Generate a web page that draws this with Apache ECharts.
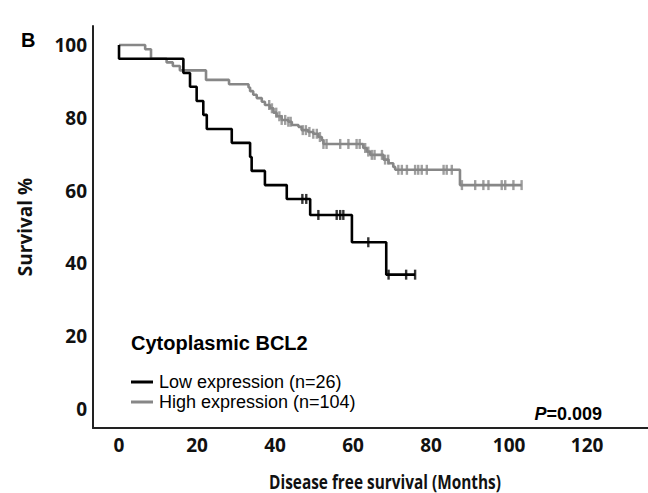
<!DOCTYPE html>
<html>
<head>
<meta charset="utf-8">
<script src="https://cdn.jsdelivr.net/npm/echarts@6/dist/echarts.min.js"></script>
<style>
html,body{margin:0;padding:0;background:#fff;}
#chart{width:648px;height:493px;}
</style>
</head>
<body>
<div id="chart"></div>
<script>
// ---- data ----
var xTicks = [0, 20, 40, 60, 80, 100, 120];
var yTicks = [0, 20, 40, 60, 80, 100];

var lowName = 'Low expression (n=26)';
var lowTimes = [0, 0, 16.5, 18.2, 19.9, 21.6, 22.5, 28.9, 33.6, 34.0, 37.4, 43.0, 49.0, 59.7, 68.5, 75.9];
var lowSurv  = [100, 96.2, 92.3, 88.5, 84.6, 80.8, 76.9, 73.1, 69.2, 65.4, 61.5, 57.7, 53.3, 45.8, 36.9, 36.9];
var lowCensor = [47.0, 48.0, 51.1, 55.8, 56.7, 57.5, 63.9, 69.1, 73.6, 75.9];

var highName = 'High expression (n=104)';
var highTimes = [0, 6.7, 8.2, 12.2, 13.8, 15.6, 22.3, 28.2, 33.2, 33.6, 34.4, 35.3, 36.6, 37.4, 38.7, 39.6, 40.4, 41.7, 43.4, 44.3, 46.0, 46.8, 48.5, 49.8, 51.1, 52.0, 52.4, 62.6, 63.5, 64.4, 67.8, 69.1, 70.3, 70.8, 87.4, 103.2];
var highSurv  = [100, 98.8, 96.2, 95.2, 94.2, 93.0, 90.4, 89.2, 88.3, 87.3, 86.3, 85.4, 84.4, 83.5, 82.6, 81.4, 80.4, 79.4, 78.9, 78.0, 77.5, 76.6, 76.1, 75.6, 74.7, 73.8, 72.8, 71.7, 70.7, 69.8, 68.5, 67.5, 66.5, 65.7, 61.5, 61.5];
var highCensor = [38.5, 39.2, 40.3, 41.1, 41.7, 42.6, 43.4, 44.0, 47.1, 47.9, 48.8, 49.8, 50.7, 51.5, 52.4, 53.2, 56.7, 58.8, 60.9, 61.7, 63.1, 63.9, 64.8, 65.5, 67.4, 68.2, 69.0, 71.6, 72.5, 73.8, 75.9, 76.7, 77.6, 78.9, 83.2, 84.0, 85.3, 87.9, 91.3, 93.4, 94.7, 98.1, 99.0, 101.1, 103.2];

// ---- helpers ----
function pairs(ts, vs) { return ts.map(function (t, i) { return [t, vs[i]]; }); }
function stepAt(ts, vs, t) {
  var v = vs[0];
  for (var i = 0; i < ts.length; i++) { if (ts[i] <= t + 1e-9) v = vs[i]; }
  return v;
}
function censorPts(cs, ts, vs) { return cs.map(function (t) { return [t, stepAt(ts, vs, t)]; }); }

var BLACK = '#000000', GRAY = '#878787';
var tickFont = { fontFamily: 'Open Sans', fontWeight: 'bold', fontSize: 19, color: '#111' };

var chart = echarts.init(document.getElementById('chart'), null, { renderer: 'svg' });
chart.setOption({
  animation: false,
  backgroundColor: '#fff',
  grid: { left: 93, right: 0, top: 26, bottom: 65, containLabel: false },
  xAxis: {
    type: 'value', min: -6.67, max: 135.6,
    axisLine: { show: true, onZero: false, lineStyle: { color: '#222', width: 2 } },
    axisTick: { show: false },
    splitLine: { show: false },
    axisLabel: Object.assign({ customValues: xTicks, margin: 7 }, tickFont)
  },
  yAxis: {
    type: 'value', min: -5.22, max: 105.2,
    axisLine: { show: true, onZero: false, lineStyle: { color: '#222', width: 2 } },
    axisTick: { show: false },
    splitLine: { show: false },
    axisLabel: Object.assign({ customValues: yTicks, margin: 6 }, tickFont),
    name: 'Survival %', nameLocation: 'middle', nameRotate: 90, nameGap: 59,
    nameTextStyle: { fontFamily: 'Open Sans', fontWeight: 'bold', fontSize: 19, color: '#111' }
  },
  legend: {
    data: [lowName, highName],
    orient: 'vertical', left: 131, top: 372, padding: 0,
    icon: 'rect', itemWidth: 22, itemHeight: 3, itemGap: 0,
    selectedMode: false,
    textStyle: { fontFamily: 'Liberation Sans', fontSize: 18, color: '#000', lineHeight: 20, padding: [0, 0, 0, 1] }
  },
  graphic: [
    { type: 'text', left: 21, top: 30, style: { text: 'B', fontFamily: 'Liberation Sans', fontWeight: 'bold', fontSize: 20, fill: '#000' } },
    { type: 'text', left: 131, top: 333, style: { text: 'Cytoplasmic BCL2', fontFamily: 'Liberation Sans', fontWeight: 'bold', fontSize: 20, fill: '#000' } },
    { type: 'text', right: 46, top: 405, style: {
        text: '{i|P}{n|=0.009}', fill: '#000',
        rich: {
          i: { fontFamily: 'Liberation Sans', fontWeight: 'bold', fontStyle: 'italic', fontSize: 18, fill: '#000' },
          n: { fontFamily: 'Liberation Sans', fontWeight: 'bold', fontSize: 18, fill: '#000' }
        } } },
    { type: 'text', x: 385, y: 481, scaleX: 0.77, style: { text: 'Disease free survival (Months)', fontFamily: 'Open Sans', fontWeight: 'bold', fontSize: 20, fill: '#111', align: 'center', verticalAlign: 'middle' } }
  ],
  series: [
    { name: lowName, type: 'line', step: 'end', data: pairs(lowTimes, lowSurv), showSymbol: false,
      lineStyle: { color: BLACK, width: 2.6 }, itemStyle: { color: BLACK }, z: 3 },
    { name: highName, type: 'line', step: 'end', data: pairs(highTimes, highSurv), showSymbol: false,
      lineStyle: { color: GRAY, width: 2.6 }, itemStyle: { color: GRAY }, z: 2 },
    { name: 'lowCensor', type: 'scatter', data: censorPts(lowCensor, lowTimes, lowSurv),
      symbol: 'rect', symbolSize: [2.4, 10], itemStyle: { color: BLACK }, silent: true, z: 4 },
    { name: 'highCensor', type: 'scatter', data: censorPts(highCensor, highTimes, highSurv),
      symbol: 'rect', symbolSize: [2.4, 10], itemStyle: { color: GRAY }, silent: true, z: 2 }
  ]
});
</script>
</body>
</html>
